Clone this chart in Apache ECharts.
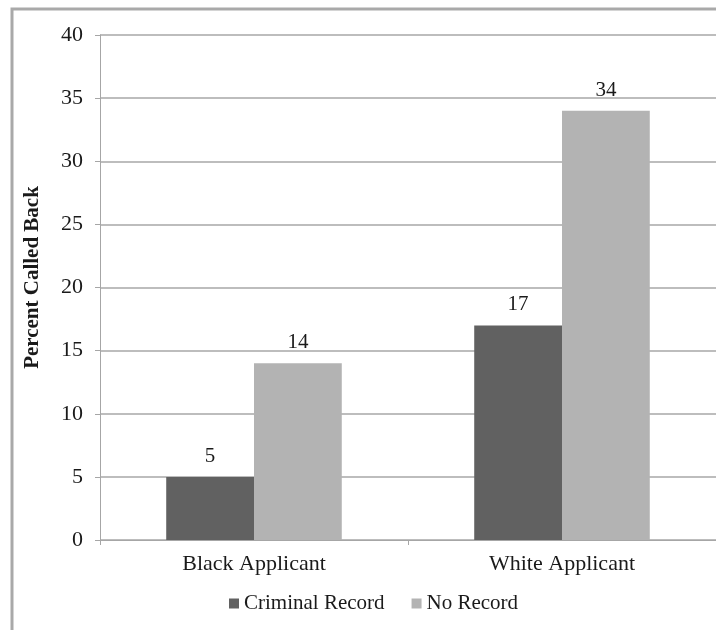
<!DOCTYPE html>
<html>
<head>
<meta charset="utf-8">
<script src="https://cdn.jsdelivr.net/npm/echarts@6/dist/echarts.min.js"></script>
<style>
  html, body { margin: 0; padding: 0; background: #ffffff; }
  #chart { width: 716px; height: 630px; }
</style>
</head>
<body>
<div id="chart"></div>
<script>
// Callback rates by applicant group
const categories = ['Black Applicant', 'White Applicant'];
const criminalRecord = [5, 17];
const noRecord = [14, 34];
const seriesNames = ['Criminal Record', 'No Record'];
const yTicks = { min: 0, max: 40, interval: 5 };

const serif = '"Liberation Serif", "Times New Roman", serif';

const chart = echarts.init(document.getElementById('chart'), null, { renderer: 'canvas' });

const valueLabel = {
  show: true,
  position: 'top',
  distance: 10,
  color: '#1a1a1a',
  fontFamily: serif,
  fontSize: 21
};

chart.setOption({
  animation: false,
  backgroundColor: '#ffffff',
  grid: { left: 100, right: 0, top: 35, bottom: 90, containLabel: false },
  legend: {
    left: 224,
    top: 588,
    itemWidth: 10,
    itemHeight: 10,
    itemGap: 27,
    icon: 'rect',
    textStyle: { fontFamily: serif, fontSize: 21, color: '#1a1a1a' },
    data: seriesNames
  },
  xAxis: {
    type: 'category',
    data: categories,
    axisLine: { lineStyle: { color: '#a6a6a6', width: 1 } },
    axisTick: { show: true, length: 5, lineStyle: { color: '#a6a6a6' } },
    axisLabel: { fontFamily: serif, fontSize: 22, color: '#1a1a1a', margin: 13 }
  },
  yAxis: {
    type: 'value',
    min: yTicks.min,
    max: yTicks.max,
    interval: yTicks.interval,
    name: 'Percent Called Back',
    nameLocation: 'middle',
    nameGap: 57,
    nameTextStyle: {
      fontFamily: serif, fontSize: 21, fontWeight: 'bold', color: '#1a1a1a',
      padding: [0, 0, 0, 20]
    },
    axisLine: { show: true, lineStyle: { color: '#a6a6a6', width: 1 } },
    axisTick: { show: true, length: 5, lineStyle: { color: '#a6a6a6' } },
    axisLabel: { fontFamily: serif, fontSize: 22, color: '#1a1a1a', margin: 17 },
    splitLine: { show: true, lineStyle: { color: '#bdbdbd', width: 2 } }
  },
  series: [
    {
      name: seriesNames[0],
      type: 'bar',
      data: criminalRecord,
      barWidth: '28.5%',
      barGap: '0%',
      itemStyle: { color: '#616161' },
      label: valueLabel
    },
    {
      name: seriesNames[1],
      type: 'bar',
      data: noRecord,
      barWidth: '28.5%',
      itemStyle: { color: '#b3b3b3' },
      label: valueLabel
    }
  ],
  graphic: [
    {
      type: 'polyline',
      silent: true,
      shape: { points: [[12, 630], [12, 9], [716, 9]] },
      style: { stroke: '#a9a9a9', lineWidth: 3, fill: null }
    }
  ]
});
</script>
</body>
</html>
